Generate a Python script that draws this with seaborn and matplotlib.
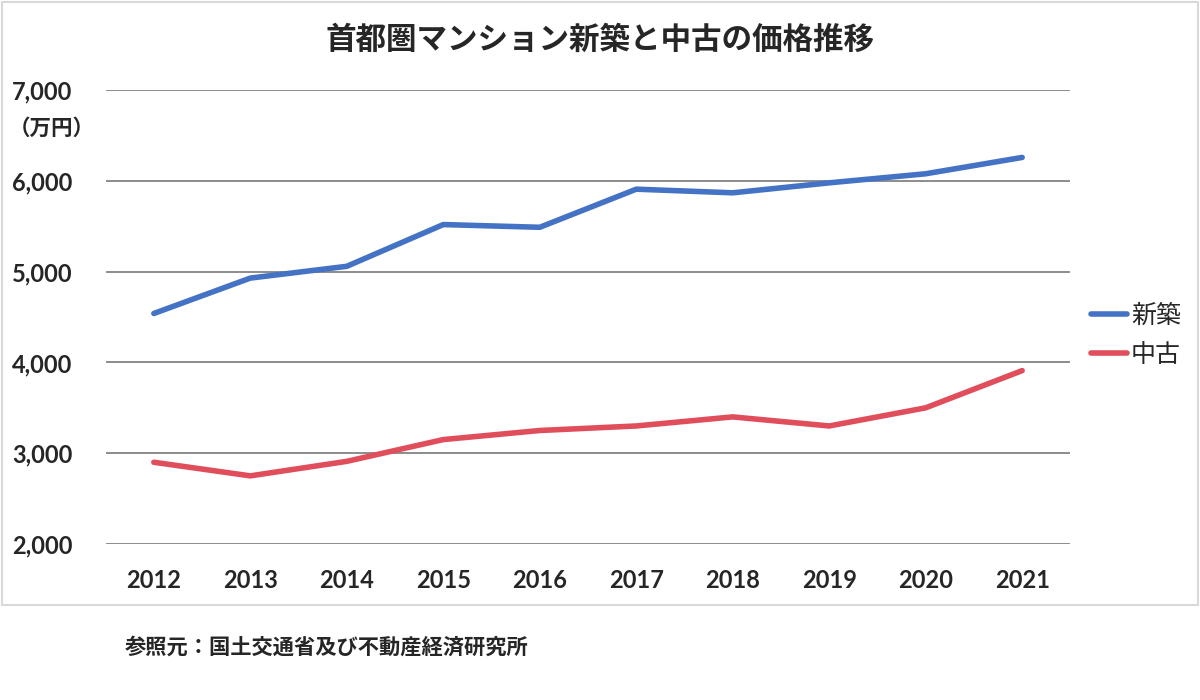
import pandas as pd
import seaborn as sns
import matplotlib.pyplot as plt
from matplotlib.patches import Rectangle

# Data (万円)
years = ["2012", "2013", "2014", "2015", "2016", "2017", "2018", "2019", "2020", "2021"]
shinchiku = [4540, 4930, 5060, 5520, 5490, 5910, 5870, 5980, 6080, 6260]
chuko = [2900, 2750, 2910, 3150, 3250, 3300, 3400, 3300, 3500, 3910]
series_names = ["新築", "中古"]
colors = ["#4472C4", "#E04E5C"]

sns.set_theme(style="white")
plt.rcParams['font.family'] = ['Lato', 'Noto Sans CJK JP', 'DejaVu Sans']
jp = ['Noto Sans CJK JP', 'DejaVu Sans']

df = pd.DataFrame({
    "year": years * 2,
    "price": shinchiku + chuko,
    "kind": [series_names[0]] * len(years) + [series_names[1]] * len(years),
})

fig = plt.figure(figsize=(12, 7), dpi=100)
ax = fig.add_axes([0.088, 0.223, 0.804, 0.648])

sns.lineplot(data=df, x="year", y="price", hue="kind", palette=colors,
             linewidth=4, sort=False, ax=ax, legend=False,
             solid_capstyle="round")

ax.set_ylim(2000, 7000)
ax.set_xlim(-0.5, len(years) - 0.5)
ax.set_yticks(range(2000, 7001, 1000))
ax.set_yticklabels([f"{v:,}" for v in range(2000, 7001, 1000)])
ax.grid(axis="y", color="#8c8c8c", linewidth=1.4)
ax.set_axisbelow(True)
for s in ax.spines.values():
    s.set_visible(False)
ax.set_xlabel("")
ax.set_ylabel("")
ax.tick_params(axis="y", labelsize=17, pad=24, length=0)
ax.tick_params(axis="x", labelsize=17, pad=18, length=0)
for lab in ax.get_xticklabels() + ax.get_yticklabels():
    lab.set_fontweight("bold")

# legend
handles = [plt.Line2D([], [], color=c, linewidth=4, solid_capstyle="round") for c in colors]
leg = fig.legend(handles, series_names, loc="center left", bbox_to_anchor=(0.909, 0.521),
                 frameon=False, handlelength=1.45, handletextpad=0.15,
                 borderpad=0, borderaxespad=0,
                 labelspacing=0.55, prop={'family': jp, 'size': 18})

fig.text(0.5, 0.943, "首都圏マンション新築と中古の価格推移", ha="center", va="center",
         fontsize=22, fontweight="bold", family=jp)
fig.text(0.007, 0.817, "（万円）", ha="left", va="center", fontsize=15.5,
         fontweight="bold", family=jp)
fig.text(0.104, 0.075, "参照元：国土交通省及び不動産経済研究所", ha="left", va="center",
         fontsize=15.3, fontweight="bold", family=jp)

# outer frame
fig.patches.append(Rectangle((0.0015, 1 - 605 / 700), 0.997, 605 / 700 - 0.003,
                             transform=fig.transFigure, fill=False,
                             edgecolor="#d9d9d9", linewidth=1.5))

fig.savefig("out.png", dpi=100, facecolor="white")
